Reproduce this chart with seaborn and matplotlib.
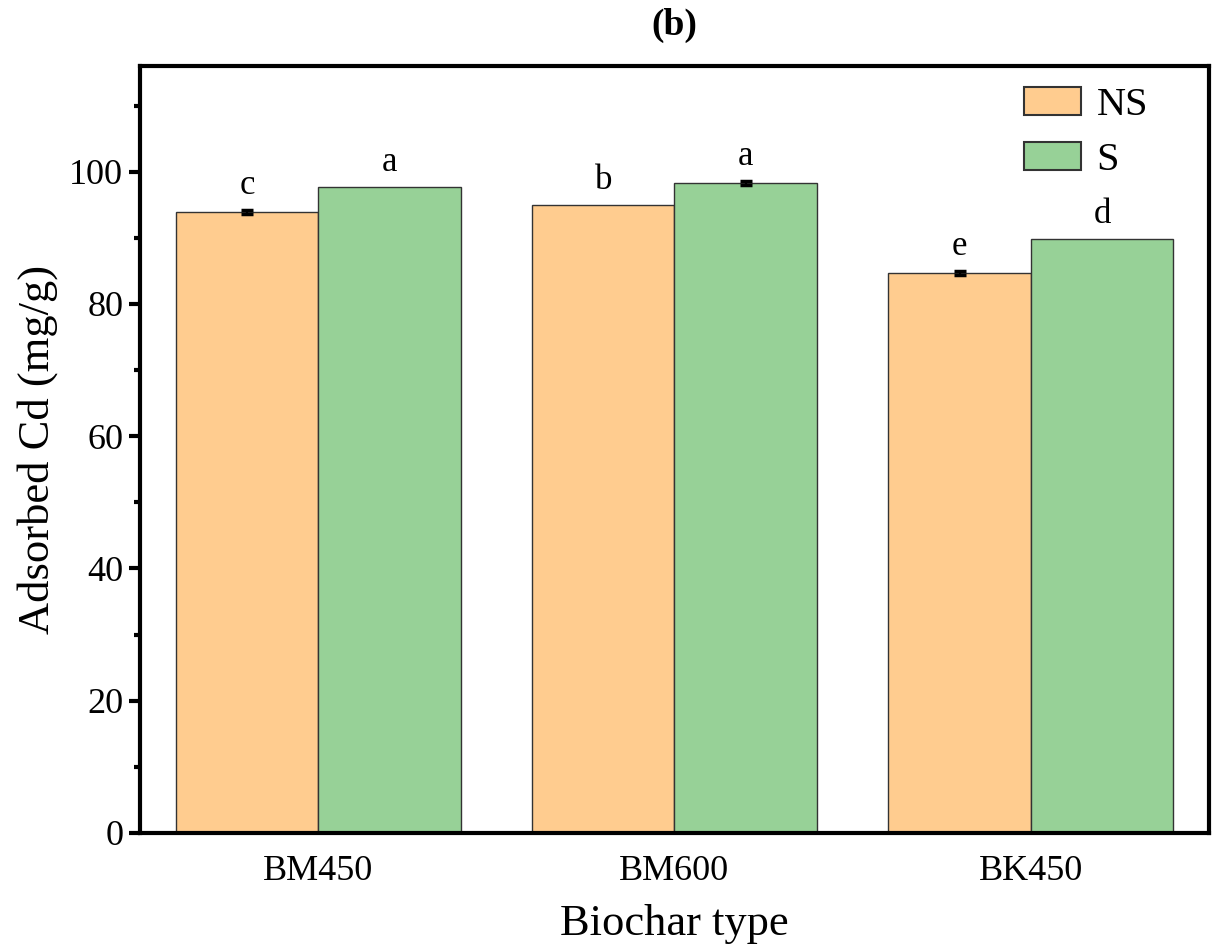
import numpy as np
import pandas as pd
import matplotlib
matplotlib.use("Agg")
import matplotlib.pyplot as plt
import seaborn as sns
from matplotlib.ticker import MultipleLocator

categories = ["BM450", "BM600", "BK450"]
series = ["NS", "S"]
ns_values = [93.9, 95.0, 84.7]
s_values = [97.7, 98.3, 89.9]
ns_err = [0.25, 0.0, 0.25]
s_err = [0.0, 0.25, 0.0]
ns_letters = ["c", "b", "e"]
s_letters = ["a", "a", "d"]
colors = ["#FFCC8F", "#97D197"]

df = pd.DataFrame({
    "Biochar": categories * 2,
    "Group": ["NS"] * 3 + ["S"] * 3,
    "Value": ns_values + s_values,
    "Err": ns_err + s_err,
    "Letter": ns_letters + s_letters,
})

sns.set_style("white")
plt.rcParams["font.family"] = ["Liberation Serif", "DejaVu Serif"]
plt.rcParams["text.color"] = "black"
plt.rcParams["axes.labelcolor"] = "black"
plt.rcParams["xtick.color"] = "black"
plt.rcParams["ytick.color"] = "black"

fig = plt.figure(figsize=(12.12, 9.47), dpi=100)
ax = fig.add_axes([0.1155, 0.1204, 0.882, 0.81])

sns.barplot(data=df, x="Biochar", y="Value", hue="Group", order=categories,
            hue_order=series, palette=colors, errorbar=None, width=0.8,
            edgecolor="#333333", linewidth=1.0, saturation=1, ax=ax)

# error bars and significance letters
for gi, g in enumerate(series):
    cont = ax.containers[gi]
    sub = df[df["Group"] == g].set_index("Biochar").loc[categories]
    for bar, (_, row) in zip(cont, sub.iterrows()):
        xc = bar.get_x() + bar.get_width() / 2
        if row["Err"] > 0:
            ax.errorbar(xc, row["Value"], yerr=row["Err"], fmt="none",
                        ecolor="black", elinewidth=1.5, capsize=4.5, capthick=2.5)
        ax.text(xc, row["Value"] + row["Err"] + 1.2, row["Letter"],
                ha="center", va="bottom", fontsize=25, color="black")

ax.set_xlim(-0.5, 2.5)
ax.set_ylim(0, 116)
ax.yaxis.set_major_locator(MultipleLocator(20))
ax.yaxis.set_minor_locator(MultipleLocator(10))
ax.tick_params(axis="y", which="major", direction="out", length=8, width=3,
               labelsize=26, left=True, pad=4)
ax.tick_params(axis="y", which="minor", direction="out", length=4, width=3, left=True)
ax.tick_params(axis="x", which="both", bottom=False, labelsize=26, pad=12)

for sp in ax.spines.values():
    sp.set_visible(True)
    sp.set_linewidth(3)
    sp.set_color("black")

ax.set_xlabel("Biochar type", fontsize=32, labelpad=12)
ax.set_ylabel("Adsorbed Cd (mg/g)", fontsize=32, labelpad=8)
ax.set_title("(b)", fontsize=27, fontweight="bold", pad=22)

leg = ax.legend(loc="upper right", frameon=False, fontsize=29,
                handlelength=1.4, handleheight=0.7, handletextpad=0.4,
                labelspacing=0.45, bbox_to_anchor=(0.977, 1.02))
for h in leg.legend_handles:
    h.set_edgecolor("#333333")
    h.set_linewidth(1.5)
for t in leg.get_texts():
    t.set_color("black")

fig.savefig("out.png", dpi=100)
